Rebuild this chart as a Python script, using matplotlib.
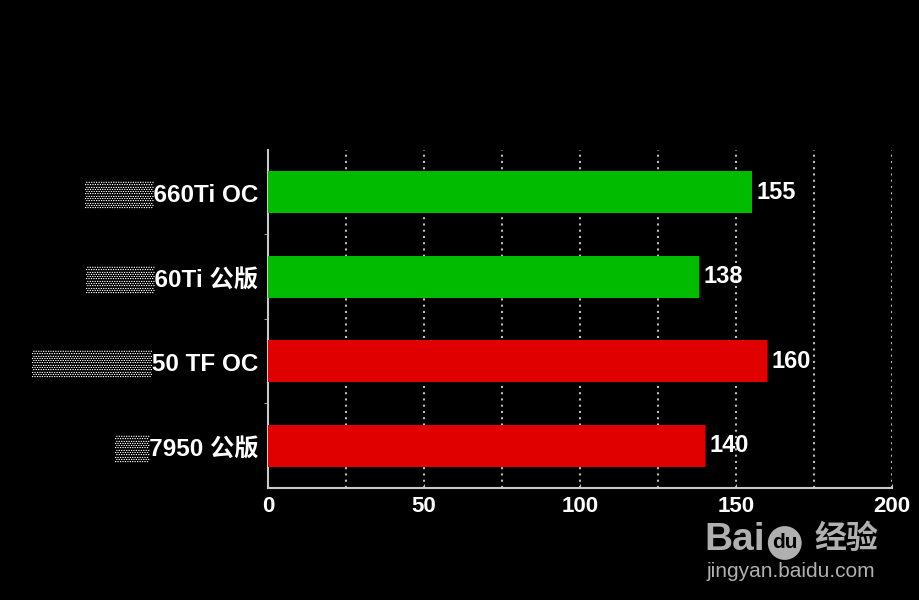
import matplotlib
matplotlib.use('Agg')
import matplotlib.pyplot as plt
import numpy as np

# data (names are pixelated in the source)
labels = ['▒▒▒▒660Ti OC', '▒▒▒▒60Ti 公版', '▒▒▒▒▒▒▒50 TF OC', '▒▒7950 公版']
values = [155, 138, 160, 140]
colors = ['#00bb00', '#00bb00', '#e00000', '#e00000']
xticks = [0, 50, 100, 150, 200]
grid_x = [25, 50, 75, 100, 125, 150, 175, 200]

plt.rcParams['font.family'] = ['Liberation Sans', 'Noto Sans CJK SC', 'DejaVu Sans']

fig = plt.figure(figsize=(9.2, 6.0), dpi=100, facecolor='black')
ax = fig.add_axes([0.2913, 0.1867, 0.6783, 0.5633], facecolor='black')

y = np.arange(len(values))
ax.barh(y, values, height=0.5, color=colors, zorder=3)

for gx in grid_x:
    ax.axvline(gx, color='#bcbcbc', ls=(0, (1, 2)), lw=1.5, zorder=1)

for yi, v in zip(y, values):
    ax.text(v + 1.5, yi, str(v), color='white', fontsize=17, fontweight='bold',
            va='center', ha='left', zorder=4)

ax.set_xlim(0, 200)
ax.set_ylim(3.5, -0.5)
ax.set_xticks(xticks)
ax.set_xticklabels([str(t) for t in xticks])
ax.set_yticks(y)
ax.set_yticklabels(labels)
ax.set_yticks([0.5, 1.5, 2.5], minor=True)

for lab in ax.get_xticklabels():
    lab.set_color('white')
    lab.set_fontsize(16)
    lab.set_fontweight('bold')
for lab in ax.get_yticklabels():
    lab.set_color('white')
    lab.set_fontsize(17.5)
    lab.set_fontweight('bold')

ax.tick_params(axis='y', which='major', length=0, pad=7)
ax.tick_params(axis='y', which='minor', length=3, color='#bbbbbb', direction='out')
ax.tick_params(axis='x', length=3, color='#bbbbbb', pad=6, direction='in')

for side in ['top', 'right']:
    ax.spines[side].set_visible(False)
for side in ['left', 'bottom']:
    ax.spines[side].set_color('#c8c8c8')
    ax.spines[side].set_linewidth(1.5)

# watermark
fig.text(0.766, 0.1, 'Bai', color='#b0b0b0', fontsize=28, fontweight='bold',
         ha='left', va='center')
fig.text(0.853, 0.095, 'du', color='black', fontsize=15, fontweight='bold', ha='center',
         va='center', bbox=dict(boxstyle='circle,pad=0.2', fc='#b0b0b0', ec='none'))
fig.text(0.885, 0.1, '经验', color='#b0b0b0', fontsize=23, fontweight='bold',
         ha='left', va='center')
fig.text(0.768, 0.048, 'jingyan.baidu.com', color='#b0b0b0', fontsize=15,
         ha='left', va='center', family=['Liberation Sans'])

fig.savefig('out.png', dpi=100, facecolor='black')
